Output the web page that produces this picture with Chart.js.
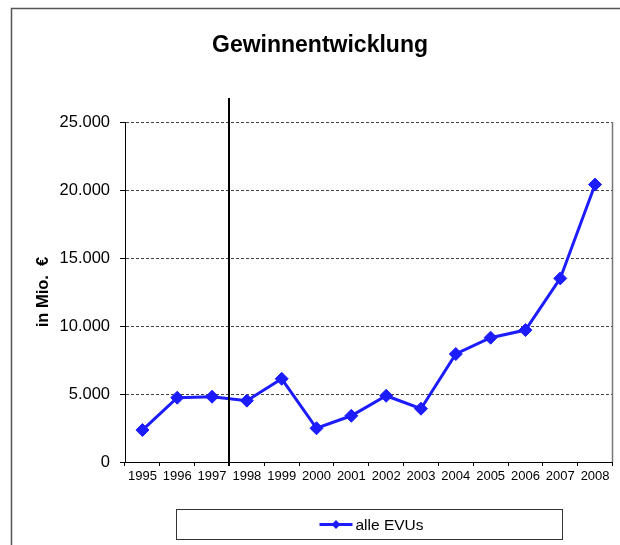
<!DOCTYPE html>
<html>
<head>
<meta charset="utf-8">
<script src="https://cdn.jsdelivr.net/npm/chart.js@4/dist/chart.umd.min.js"></script>
<style>
html,body{margin:0;padding:0;background:#fff;}
#wrap{width:620px;height:545px;position:relative;}
</style>
</head>
<body>
<div id="wrap"><canvas id="c" width="620" height="545"></canvas></div>
<script>
// ---- data ----
const years = ['1995','1996','1997','1998','1999','2000','2001','2002','2003','2004','2005','2006','2007','2008'];
const gewinn = [2350, 4730, 4800, 4510, 6120, 2480, 3400, 4870, 3920, 7940, 9140, 9700, 13500, 20400];
const yTicks = [0, 5000, 10000, 15000, 20000, 25000];
const yTickLabels = ['0', '5.000', '10.000', '15.000', '20.000', '25.000'];
const seriesName = 'alle EVUs';
const chartTitle = 'Gewinnentwicklung';
const yAxisTitle = 'in Mio.  €';
const dividerAfter = '1997'; // vertical marker line between 1997 and 1998

const BLUE = '#1c1cff';
const FONT = "'Liberation Sans', Arial, Helvetica, sans-serif";
Chart.defaults.font.family = FONT;
Chart.defaults.color = '#000';

const decor = {
  id: 'decor',
  beforeDraw(chart) {
    const ctx = chart.ctx;
    ctx.save();
    ctx.fillStyle = '#fff';
    ctx.fillRect(0, 0, chart.width, chart.height);
    ctx.strokeStyle = '#555';
    ctx.lineWidth = 1.5;
    ctx.beginPath();
    ctx.moveTo(11.5, chart.height);
    ctx.lineTo(11.5, 8.5);
    ctx.lineTo(chart.width, 8.5);
    ctx.stroke();
    // title
    ctx.fillStyle = '#000';
    ctx.font = 'bold 23px ' + FONT;
    ctx.textAlign = 'center';
    ctx.textBaseline = 'middle';
    ctx.fillText(chartTitle, 320, 46);
    ctx.restore();
  },
  afterDatasetsDraw(chart) {
    const ctx = chart.ctx;
    const x = chart.scales.x;
    const a = chart.chartArea;
    const idx = years.indexOf(dividerAfter);
    const px = Math.round(x.getPixelForValue(idx + 0.5));
    ctx.save();
    ctx.strokeStyle = '#000';
    ctx.lineWidth = 2;
    ctx.beginPath();
    ctx.moveTo(px, a.top - 24);
    ctx.lineTo(px, a.bottom + 4);
    ctx.stroke();
    // right frame of plot area
    ctx.strokeStyle = '#777';
    ctx.lineWidth = 1.5;
    ctx.beginPath();
    ctx.moveTo(a.right, a.top);
    ctx.lineTo(a.right, a.bottom);
    ctx.stroke();
    ctx.restore();
  },
  afterDraw(chart) {
    const ctx = chart.ctx;
    const a = chart.chartArea;
    const cx = (a.left + a.right) / 2;
    const bw = 386, bh = 30;
    const bx = Math.round(cx - bw / 2) + 0.5, by = 509.5;
    ctx.save();
    ctx.strokeStyle = '#333';
    ctx.lineWidth = 1;
    ctx.strokeRect(bx, by, bw, bh);
    const ly = by + bh / 2;
    const lx = bx + 143;
    ctx.strokeStyle = BLUE;
    ctx.lineWidth = 3;
    ctx.beginPath();
    ctx.moveTo(lx, ly);
    ctx.lineTo(lx + 33, ly);
    ctx.stroke();
    ctx.fillStyle = BLUE;
    ctx.beginPath();
    ctx.moveTo(lx + 16.5, ly - 4.5);
    ctx.lineTo(lx + 21, ly);
    ctx.lineTo(lx + 16.5, ly + 4.5);
    ctx.lineTo(lx + 12, ly);
    ctx.closePath();
    ctx.fill();
    ctx.fillStyle = '#000';
    ctx.font = '15.5px ' + FONT;
    ctx.textBaseline = 'middle';
    ctx.textAlign = 'left';
    ctx.fillText(seriesName, lx + 36, ly + 1);
    ctx.restore();
  }
};

new Chart(document.getElementById('c'), {
  type: 'line',
  data: {
    labels: years,
    datasets: [{
      label: seriesName,
      data: gewinn,
      borderColor: BLUE,
      backgroundColor: BLUE,
      borderWidth: 3,
      pointStyle: 'rectRot',
      pointRadius: 6.5,
      pointBackgroundColor: BLUE,
      pointBorderColor: BLUE,
      pointBorderWidth: 1,
      tension: 0,
      fill: false
    }]
  },
  options: {
    responsive: false,
    animation: false,
    devicePixelRatio: 1,
    layout: { padding: { left: 0, top: 122, right: 7, bottom: 58 } },
    plugins: {
      legend: { display: false },
      tooltip: { enabled: false },
      title: { display: false }
    },
    scales: {
      x: {
        type: 'category',
        offset: true,
        grid: { display: true, drawOnChartArea: false, drawTicks: true, tickLength: 4, offset: true, color: '#000' },
        border: { display: true, color: '#000', width: 1 },
        ticks: { font: { size: 13 }, color: '#000', padding: 3, maxRotation: 0, autoSkip: false },
        afterFit: s => { s.height = 25; }
      },
      y: {
        min: 0,
        max: 25000,
        afterBuildTicks: s => { s.ticks = yTicks.map(v => ({ value: v })); },
        ticks: { font: { size: 16.5 }, color: '#000', padding: 10, callback: (v, i) => yTickLabels[i] },
        grid: {
          color: c => (c.tick && c.tick.value === 0) ? 'rgba(0,0,0,0)' : '#444',
          tickLength: 5,
          tickColor: '#000',
          tickBorderDash: []
        },
        border: { display: true, color: '#000', width: 1, dash: [3, 2] },
        title: { display: true, text: yAxisTitle, color: '#000', font: { size: 16.5, weight: 'bold' }, padding: { top: 34, bottom: 0 } },
        afterFit: s => { s.width = 125; }
      }
    }
  },
  plugins: [decor]
});
</script>
</body>
</html>
